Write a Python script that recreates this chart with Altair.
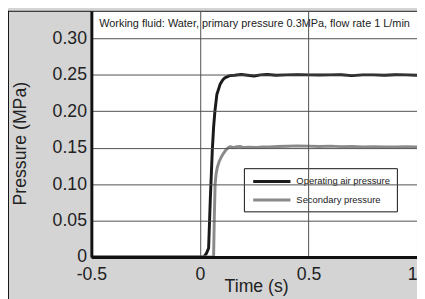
import altair as alt
import pandas as pd

# ---- data ----
SERIES = ["Operating air pressure", "Secondary pressure"]
COLORS = ["#1a1a1a", "#8a8a8a"]

T_OPER = [-0.5, 0.018, 0.030, 0.040, 0.048, 0.057, 0.063, 0.069, 0.078, 0.093, 0.105, 0.115,
          0.137, 0.16, 0.19, 0.22, 0.25, 0.28, 0.31, 0.35, 0.40, 0.45, 0.50, 0.55,
          0.60, 0.65, 0.70, 0.75, 0.80, 0.85, 0.90, 0.95, 1.0]
P_OPER = [0.0, 0.0, 0.005, 0.012, 0.08, 0.146, 0.178, 0.200, 0.223, 0.237, 0.243, 0.246,
          0.249, 0.2495, 0.2505, 0.2495, 0.2485, 0.2500, 0.2505, 0.2495, 0.2500, 0.2503, 0.2500, 0.2498,
          0.2500, 0.2502, 0.2490, 0.2500, 0.2500, 0.2496, 0.2502, 0.2500, 0.2495]

T_SEC = [-0.5, 0.063, 0.066, 0.070, 0.075, 0.081, 0.090, 0.100, 0.108, 0.120, 0.130, 0.140,
         0.155, 0.170, 0.185, 0.200, 0.23, 0.26, 0.29, 0.32, 0.36, 0.40, 0.45, 0.50,
         0.55, 0.60, 0.65, 0.70, 0.75, 0.80, 0.85, 0.90, 0.95, 1.0]
P_SEC = [0.0, 0.0, 0.05, 0.100, 0.115, 0.124, 0.132, 0.138, 0.142, 0.147, 0.150, 0.1515,
         0.1500, 0.1515, 0.1518, 0.1502, 0.1508, 0.1505, 0.1510, 0.1512, 0.1518, 0.1520, 0.1525, 0.1522,
         0.1518, 0.1522, 0.1515, 0.1518, 0.1512, 0.1515, 0.1510, 0.1512, 0.1515, 0.1512]

X_TICKS = [-0.5, 0, 0.5, 1]
Y_TICKS = [0, 0.05, 0.10, 0.15, 0.20, 0.25, 0.30]
TITLE_TEXT = "Working fluid: Water, primary pressure 0.3MPa, flow rate 1 L/min"
X_TITLE = "Time (s)"
Y_TITLE = "Pressure (MPa)"

rows = []
for t, p in zip(T_OPER, P_OPER):
    rows.append({"t": t, "p": p, "series": SERIES[0]})
for t, p in zip(T_SEC, P_SEC):
    rows.append({"t": t, "p": p, "series": SERIES[1]})
df = pd.DataFrame(rows)

W, H = 332, 251
FONT = "Liberation Sans"

x_scale = alt.Scale(domain=[-0.5, 1.0], nice=False, zero=False)
y_scale = alt.Scale(domain=[0, 0.338], nice=False, zero=False)

x_axis = alt.Axis(
    values=X_TICKS, title=X_TITLE, grid=True, gridColor="#505050", gridWidth=1,
    domainColor="#111111", domainWidth=3, ticks=False, labelPadding=9, zindex=1,
    labelFont=FONT, labelFontSize=18, labelColor="#222222",
    labelExpr="datum.value < 0 ? '-' + format(-datum.value, '~g') : format(datum.value, '~g')",
    labelAlign={"condition": {"test": "datum.value == 1", "value": "right"}, "value": "center"},
    titleFont=FONT, titleFontSize=18, titleFontWeight="normal", titleColor="#222222",
    titleX=168, titleY=30, titleBaseline="middle",
)
y_axis = alt.Axis(
    values=Y_TICKS, title=Y_TITLE, grid=True, gridColor="#505050", gridWidth=1,
    domainColor="#111111", domainWidth=3, ticks=False, labelPadding=5, zindex=1,
    labelFont=FONT, labelFontSize=18, labelColor="#222222",
    labelExpr="datum.value == 0 ? '0' : format(datum.value, '.2f')",
    titleFont=FONT, titleFontSize=18, titleFontWeight="normal", titleColor="#222222",
    titleX=-72, titleY=135, titleAngle=-90, titleBaseline="middle", titleAlign="center",
)

one = pd.DataFrame({"k": [0]})

lines = alt.Chart(df).mark_line(strokeWidth=3, strokeJoin="round").encode(
    x=alt.X("t:Q", scale=x_scale, axis=x_axis),
    y=alt.Y("p:Q", scale=y_scale, axis=y_axis),
    color=alt.Color("series:N", scale=alt.Scale(domain=SERIES, range=COLORS), legend=None),
    detail="series:N",
    order=alt.Order("t:Q"),
)

title_mark = alt.Chart(one).mark_text(
    align="left", baseline="middle", font=FONT, fontSize=11.1, color="#222222"
).encode(x=alt.value(8), y=alt.value(14), text=alt.value(TITLE_TEXT))

top_border = alt.Chart(one).mark_rule(color="#111111", strokeWidth=1).encode(
    x=alt.value(-85), x2=alt.value(W), y=alt.value(0.5))
left_border = alt.Chart(one).mark_rule(color="#111111", strokeWidth=1).encode(
    x=alt.value(-84.5), y=alt.value(0), y2=alt.value(300))

legend_box = alt.Chart(one).mark_rect(fill="white", stroke="#111111", strokeWidth=1).encode(
    x=alt.value(156), x2=alt.value(312), y=alt.value(161), y2=alt.value(205))

legend_layers = [legend_box]
for i, (name, col) in enumerate(zip(SERIES, COLORS)):
    yy = 174 + 19 * i
    legend_layers.append(
        alt.Chart(one).mark_rule(color=col, strokeWidth=3).encode(
            x=alt.value(165), x2=alt.value(203), y=alt.value(yy)))
    legend_layers.append(
        alt.Chart(one).mark_text(align="left", baseline="middle", font=FONT, fontSize=9.6,
                                 color="#222222").encode(
            x=alt.value(209), y=alt.value(yy), text=alt.value(name)))

chart = alt.layer(
    lines, title_mark, top_border, left_border, *legend_layers
).properties(
    width=W, height=H,
    autosize=alt.AutoSizeParams(type="none"),
    padding={"left": 85, "top": 0, "right": 0, "bottom": 40},
    background="#d4d4d4",
).configure_view(
    fill="white", stroke=None
)

chart.save("out.html", embed_options={"renderer": "svg", "actions": False})
